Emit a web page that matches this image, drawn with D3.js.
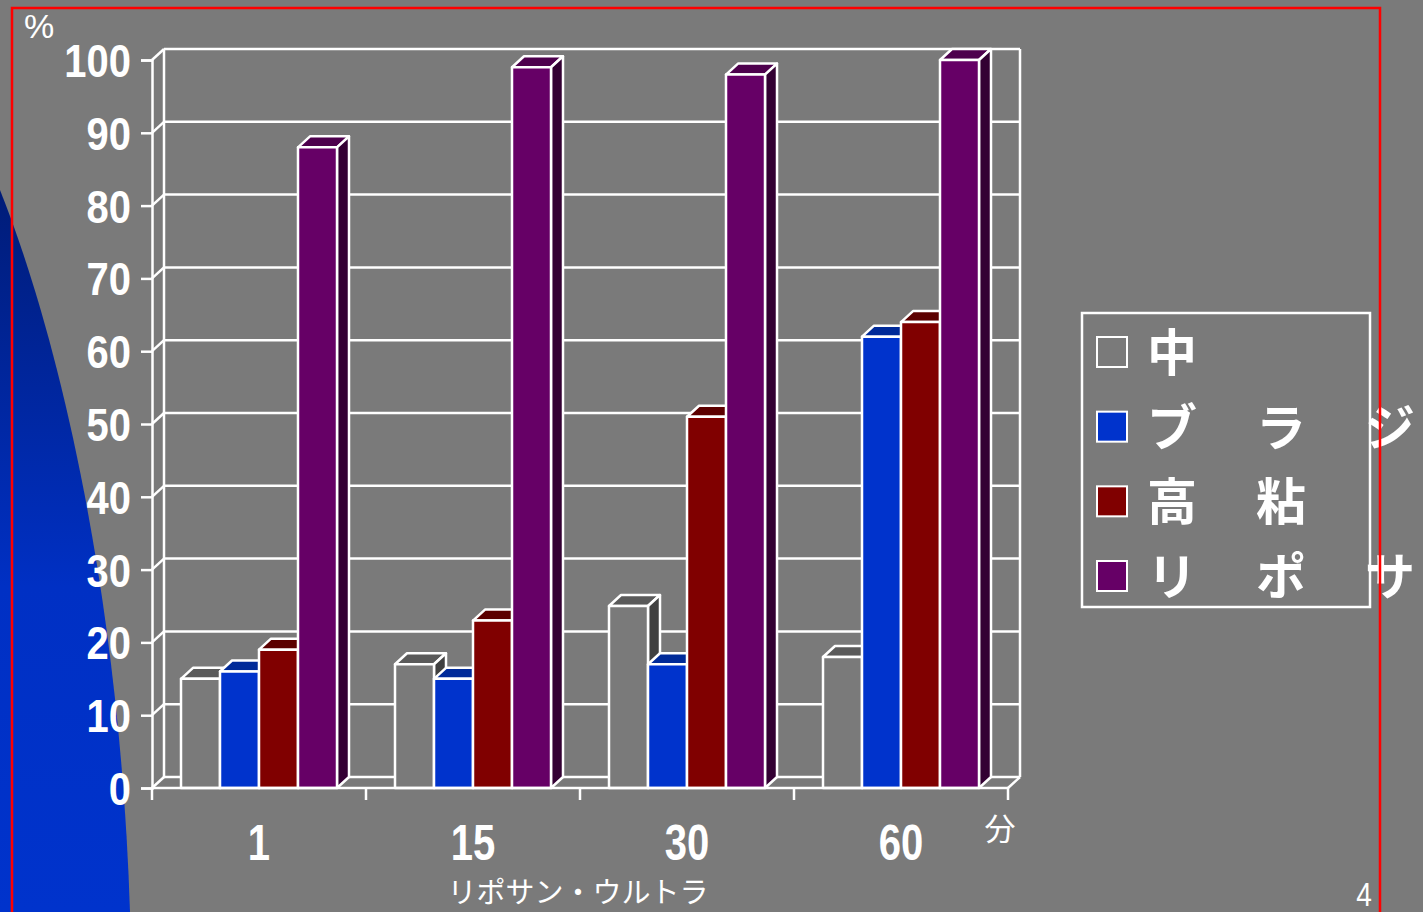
<!DOCTYPE html>
<html>
<head>
<meta charset="utf-8">
<script src="https://cdn.jsdelivr.net/npm/d3@7"></script>
<style>
  html, body { margin: 0; padding: 0; background: #7a7a7a; overflow: hidden; }
  svg { display: block; }
  .narrow { font-family: "Liberation Sans Narrow", "Liberation Sans", sans-serif; }
  .jp { font-family: "Noto Sans CJK JP", sans-serif; }
</style>
</head>
<body>
<svg id="chart"></svg>
<script>
const categories = ['1', '15', '30', '60']
const series = ['中', 'ブラジ', '高粘', 'リポサ']
const values = {
  '中':     [15, 17, 25, 18],
  'ブラジ': [16, 15, 17, 62],
  '高粘':   [19, 23, 51, 64],
  'リポサ': [88, 99, 98, 100]
}
const yTicks = [0, 10, 20, 30, 40, 50, 60, 70, 80, 90, 100]

const width = 1423, height = 912
const depthX = 12, depthY = 11
const squeeze = 0.85   // condensed look for the digits
const colors = {
  '中':     { front: '#7a7a7a', top: '#5a5a5a', side: '#404040' },
  'ブラジ': { front: '#0033cc', top: '#002a99', side: '#001a66' },
  '高粘':   { front: '#800000', top: '#5c0000', side: '#400000' },
  'リポサ': { front: '#660066', top: '#4d004d', side: '#330033' }
}

const svg = d3.select('#chart').attr('width', width).attr('height', height)

// left blue swoosh
const grad = svg.append('defs').append('linearGradient')
  .attr('id', 'swoosh').attr('x1', 0).attr('y1', 0).attr('x2', 0).attr('y2', 1)
grad.append('stop').attr('offset', '0%').attr('stop-color', '#001c78')
grad.append('stop').attr('offset', '55%').attr('stop-color', '#0030c4')
grad.append('stop').attr('offset', '100%').attr('stop-color', '#0033cc')

const swoosh = d3.path()
swoosh.moveTo(0, 190)
swoosh.bezierCurveTo(60, 340, 120, 600, 130, 912)
swoosh.lineTo(0, 912)
swoosh.closePath()
svg.append('path').attr('d', swoosh.toString()).attr('fill', 'url(#swoosh)')

// scales
const x0 = d3.scaleBand().domain(categories).range([152, 1008])
const x1 = d3.scaleBand().domain(series).range([29, x0.bandwidth() - 29])
const y = d3.scaleLinear().domain([0, 100]).range([788, 60])

const frame = svg.append('g').attr('fill', 'none').attr('stroke', '#fff').attr('stroke-width', 2.5)

// back wall gridlines and left wall diagonals
frame.selectAll('.grid').data(yTicks).enter().append('line')
  .attr('x1', 152 + depthX).attr('x2', 1008 + depthX)
  .attr('y1', d => y(d) - depthY).attr('y2', d => y(d) - depthY)
frame.selectAll('.diag').data(yTicks).enter().append('line')
  .attr('x1', 152).attr('x2', 152 + depthX)
  .attr('y1', d => y(d)).attr('y2', d => y(d) - depthY)
frame.append('line').attr('x1', 152 + depthX).attr('x2', 152 + depthX)
  .attr('y1', y(100) - depthY).attr('y2', y(0) - depthY)
frame.append('line').attr('x1', 1008 + depthX).attr('x2', 1008 + depthX)
  .attr('y1', y(100) - depthY).attr('y2', y(0) - depthY)
frame.append('line').attr('x1', 1008).attr('x2', 1008 + depthX)
  .attr('y1', y(0)).attr('y2', y(0) - depthY)

// y axis
const yAxis = svg.append('g').attr('transform', 'translate(152,0)')
  .call(d3.axisLeft(y).tickValues(yTicks).tickSize(11).tickPadding(10))
yAxis.select('.domain').attr('stroke', '#fff').attr('stroke-width', 2.5)
yAxis.selectAll('.tick line').attr('stroke', '#fff').attr('stroke-width', 2.5)
yAxis.selectAll('.tick text')
  .attr('class', 'narrow').attr('fill', '#fff')
  .attr('font-size', 47).attr('font-weight', 'bold').attr('dy', '0.35em')
  .attr('x', -21 / squeeze).attr('transform', `scale(${squeeze},1)`)

// bars
const bars = svg.append('g')
categories.forEach((cat, ci) => {
  series.forEach(s => {
    const v = values[s][ci]
    const bx = x0(cat) + x1(s), bw = x1.bandwidth()
    const top = y(v), base = y(0)
    const g = bars.append('g').attr('stroke', '#fff').attr('stroke-width', 2.5).attr('stroke-linejoin', 'round')
    g.append('polygon')
      .attr('points', [[bx, top], [bx + depthX, top - depthY], [bx + bw + depthX, top - depthY], [bx + bw, top]].join(' '))
      .attr('fill', colors[s].top)
    g.append('polygon')
      .attr('points', [[bx + bw, top], [bx + bw + depthX, top - depthY], [bx + bw + depthX, base - depthY], [bx + bw, base]].join(' '))
      .attr('fill', colors[s].side)
    g.append('rect')
      .attr('x', bx).attr('y', top).attr('width', bw).attr('height', base - top)
      .attr('fill', colors[s].front)
  })
})

// x axis
svg.append('line').attr('x1', 152).attr('x2', 1008).attr('y1', y(0)).attr('y2', y(0))
  .attr('stroke', '#fff').attr('stroke-width', 2.5)
const edges = categories.map(c => x0(c)).concat([x0.range()[1]])
svg.selectAll('.xtick').data(edges).enter().append('line')
  .attr('x1', d => d).attr('x2', d => d).attr('y1', y(0)).attr('y2', y(0) + 12)
  .attr('stroke', '#fff').attr('stroke-width', 2.5)

const xAxis = svg.append('g').attr('transform', `translate(0,${y(0)})`)
  .call(d3.axisBottom(x0).tickSize(0).tickPadding(0))
xAxis.select('.domain').remove()
xAxis.selectAll('.tick text')
  .attr('class', 'narrow').attr('fill', '#fff')
  .attr('font-size', 50).attr('font-weight', 'bold')
  .attr('y', 72).attr('dy', 0).attr('transform', 'scale(0.8,1)')

svg.append('text').attr('class', 'jp').attr('x', 1000).attr('y', 840)
  .attr('text-anchor', 'middle').attr('fill', '#fff').attr('font-size', 31).text('分')
svg.append('text').attr('class', 'jp').attr('x', 578).attr('y', 903)
  .attr('text-anchor', 'middle').attr('fill', '#fff').attr('font-size', 29).text('リポサン・ウルトラ')
svg.append('text').attr('class', 'narrow').attr('x', 39).attr('y', 38)
  .attr('text-anchor', 'middle').attr('fill', '#fff').attr('font-size', 34).text('%')
svg.append('text').attr('class', 'narrow').attr('x', 1364 / 0.85).attr('y', 906)
  .attr('transform', 'scale(0.85,1)')
  .attr('text-anchor', 'middle').attr('fill', '#fff').attr('font-size', 33).text('4')

// legend
const legend = svg.append('g')
legend.append('rect').attr('x', 1082).attr('y', 313).attr('width', 288).attr('height', 294)
  .attr('fill', 'none').attr('stroke', '#fff').attr('stroke-width', 2.5)
const rowY = d3.scalePoint().domain(series).range([352, 576])
series.forEach(s => {
  legend.append('rect').attr('x', 1097).attr('y', rowY(s) - 15).attr('width', 30).attr('height', 30)
    .attr('fill', colors[s].front).attr('stroke', '#fff').attr('stroke-width', 2)
  Array.from(s).forEach((ch, i) => {
    legend.append('text').attr('class', 'jp')
      .attr('x', 1147 + i * 109).attr('y', rowY(s) + 19)
      .attr('fill', '#fff').attr('font-size', 50).attr('font-weight', 'bold').text(ch)
  })
})

// red frame
svg.append('rect').attr('x', 12).attr('y', 8).attr('width', 1368).attr('height', 960)
  .attr('fill', 'none').attr('stroke', '#ff0000').attr('stroke-width', 2.5)
</script>
</body>
</html>
